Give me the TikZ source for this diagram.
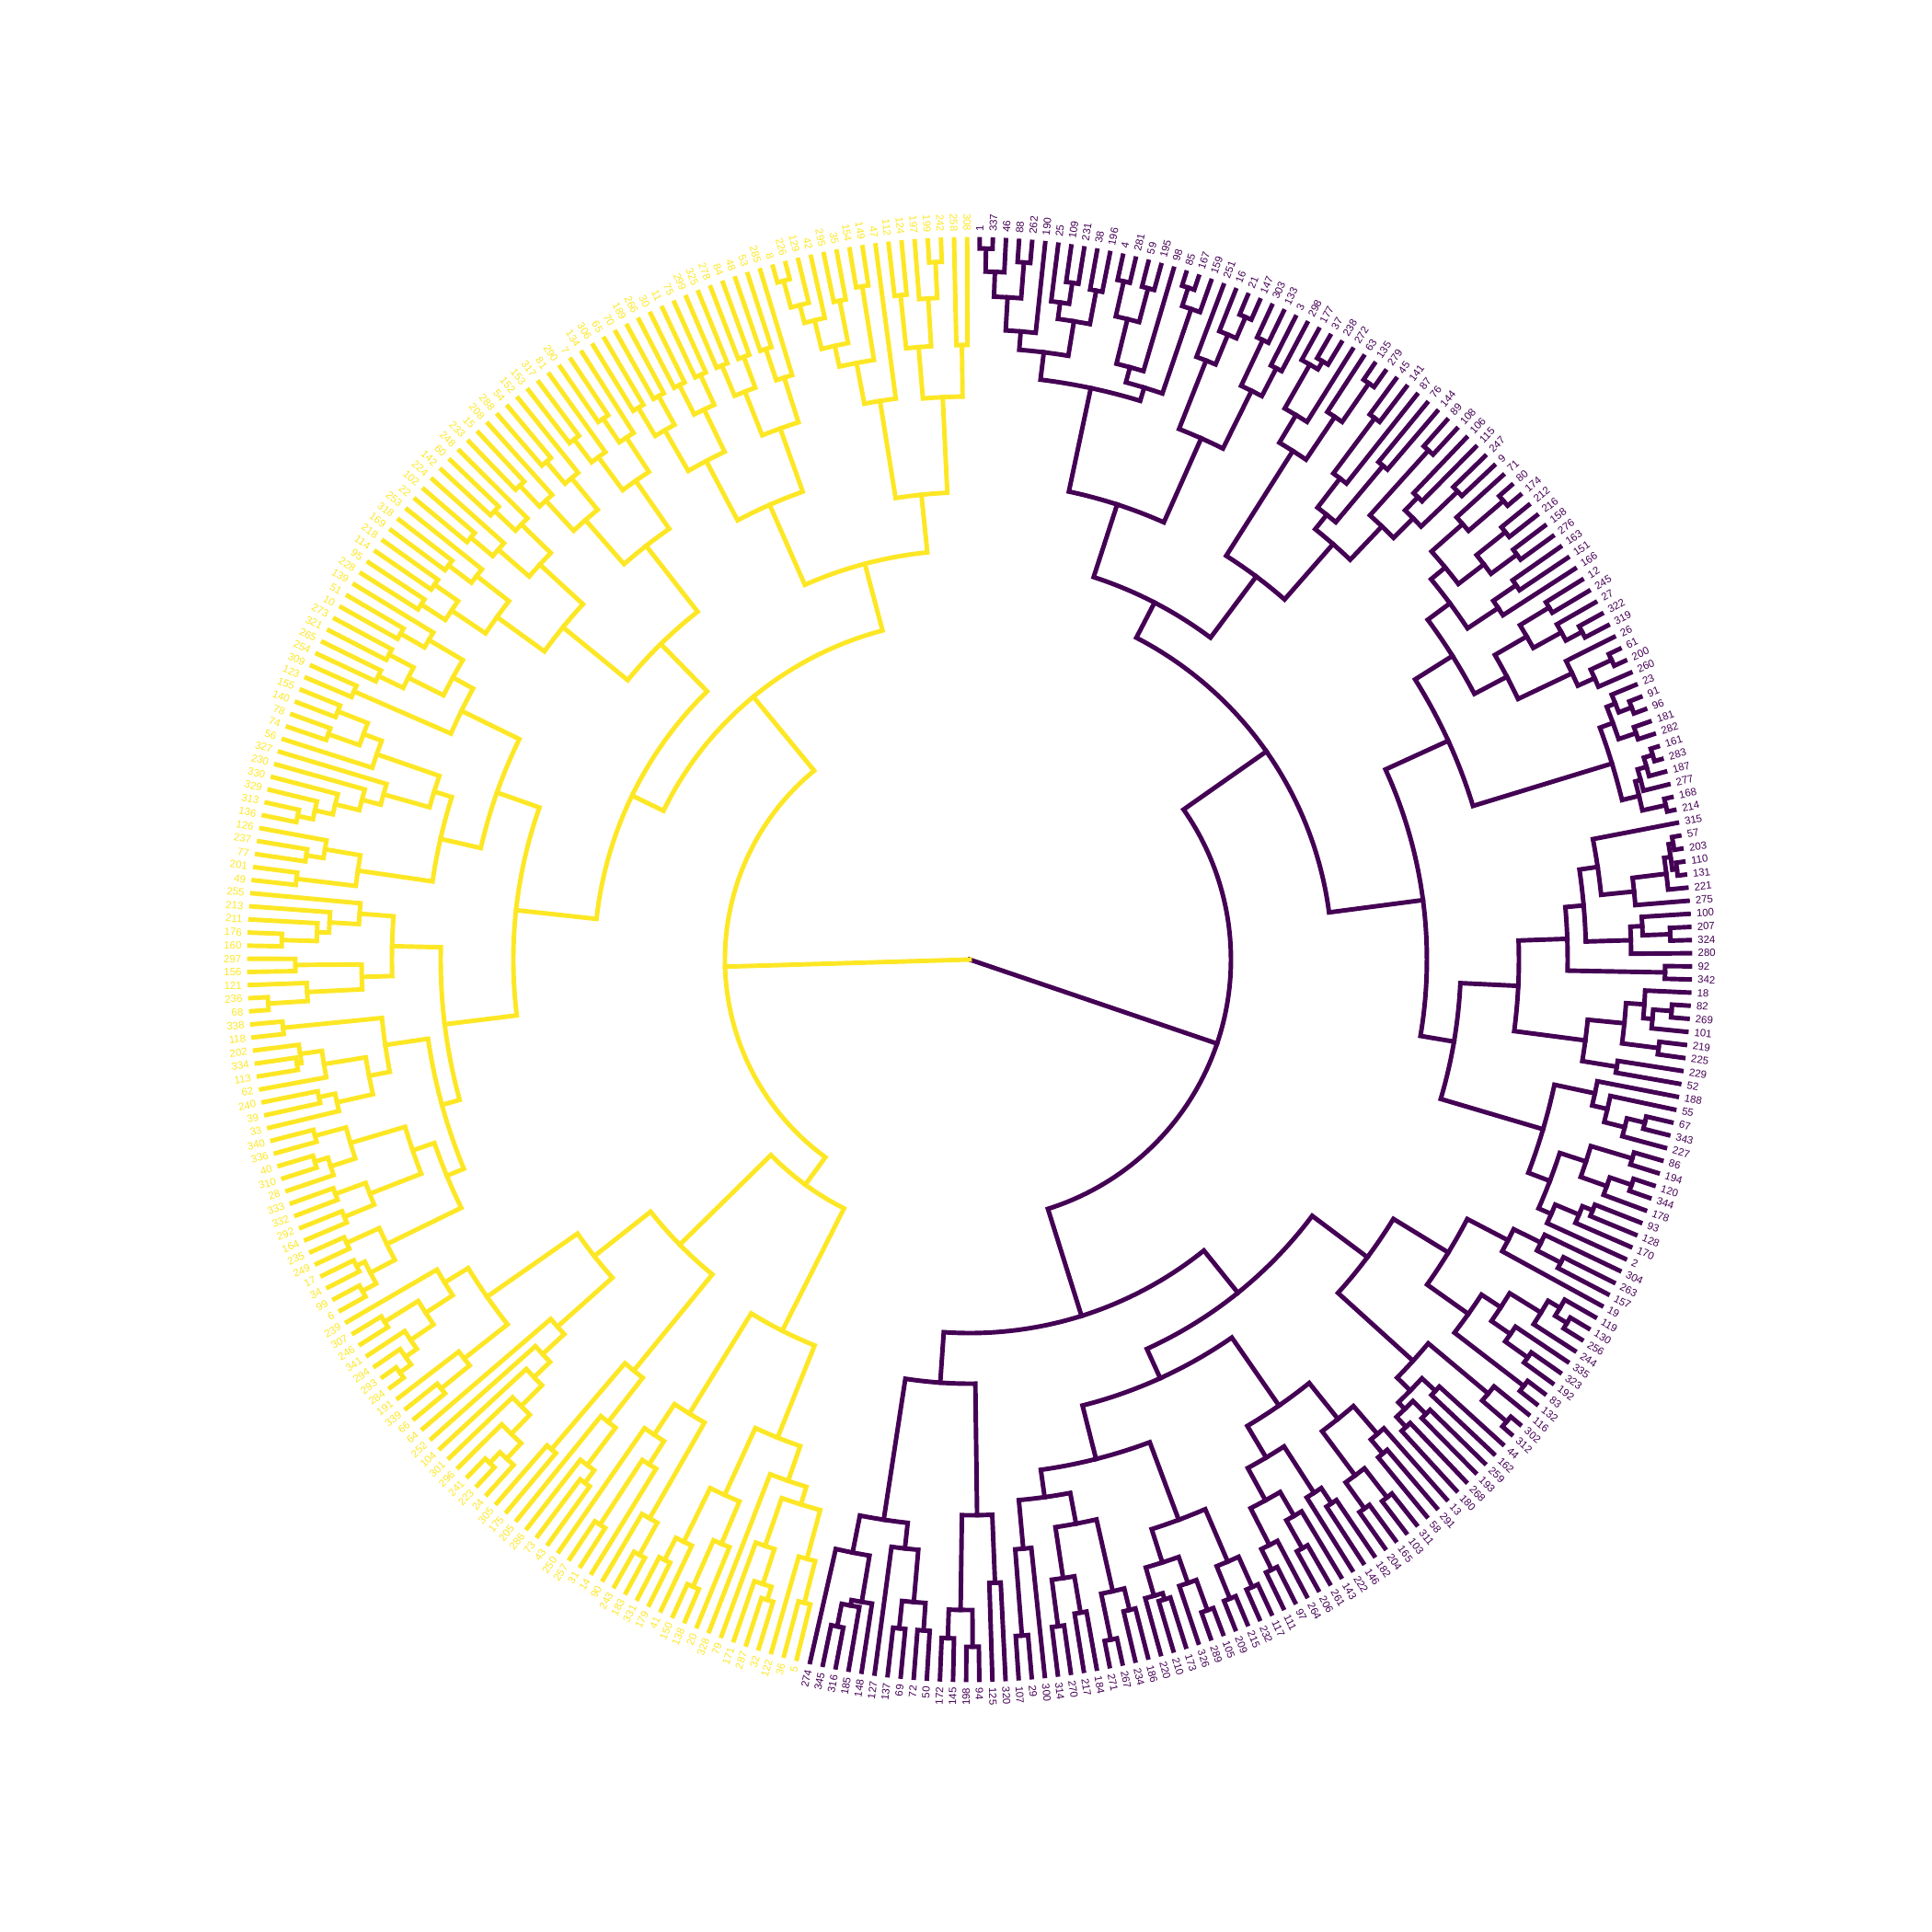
\documentclass[tikz,border=0pt]{standalone}
\usepackage{fontspec}
\setmainfont{Liberation Sans}
\definecolor{vpur}{HTML}{440154}
\definecolor{vyel}{HTML}{FDE725}
\newcount\leafk
\newcount\stk
\def\curstart{89.2}\def\curdir{-1}\def\curpre{p}\def\curcol{vpur}
\tikzset{br/.style={line width=1.4pt,line cap=rect,line join=miter},
  lbl/.style={font=\fontsize{3.25}{3.9}\selectfont,inner sep=0pt}}
\newcommand\Lf{%
  \pgfmathsetmacro\lfA{\curstart+\curdir*\the\leafk*1.0434783}%
  \global\advance\stk by 1
  \expandafter\xdef\csname sa\the\stk\endcsname{\lfA}%
  \expandafter\xdef\csname sr\the\stk\endcsname{783}%
  \pgfmathtruncatemacro\lfFlip{cos(\lfA)<0?1:0}%
  \ifnum\lfFlip=1 \def\lfAnc{east}\pgfmathsetmacro\lfRot{\lfA+180}\else\def\lfAnc{west}\let\lfRot\lfA\fi
  \node[lbl,text=\curcol,rotate=\lfRot,anchor=\lfAnc] (L\curpre\the\leafk) at ({\lfA}:7.91) {\csname\curpre lab\the\leafk\endcsname};%
  \global\advance\leafk by 1
}
\newcommand\Mg[1]{%
  \edef\mgAa{\csname sa\the\stk\endcsname}%
  \edef\mgRa{\csname sr\the\stk\endcsname}%
  \global\advance\stk by -1
  \edef\mgAb{\csname sa\the\stk\endcsname}%
  \edef\mgRb{\csname sr\the\stk\endcsname}%
  \pgfmathsetmacro\mgR{#1}%
  \draw[br,draw=\curcol] ({\mgAb}:{\mgRb/100}) -- ({\mgAb}:{\mgR/100}) arc[start angle=\mgAb,end angle=\mgAa,radius=\mgR/100] -- ({\mgAa}:{\mgRa/100});%
  \pgfmathsetmacro\mgM{(\mgAa+\mgAb)/2}%
  \expandafter\xdef\csname sa\the\stk\endcsname{\mgM}%
  \expandafter\xdef\csname sr\the\stk\endcsname{\mgR}%
}
\newcommand\Au[2]{%
  \ifnum#1<2\relax
    \def\auNext{\Lf}%
  \else
    \pgfmathtruncatemacro\auA{#1/2}%
    \pgfmathtruncatemacro\auB{#1-\auA}%
    \pgfmathsetmacro\auR{#2+(783-#2)*0.3}%
    \edef\auNext{\noexpand\Au{\auA}{\auR}\noexpand\Au{\auB}{\auR}\noexpand\Mg{#2}}%
  \fi
  \auNext}
\begin{document}
\begin{tikzpicture}
\useasboundingbox (-10.54,-10.57) rectangle (10.46,10.43);
\foreach \t [count=\i from 0] in {1,337,46,88,262,190,25,109,231,38,196,4,281,59,195,98,85,167,159,251,16,21,147,303,133,3,298,177,37,238,272,63,135,279,45,141,87,76,144,89,108,106,115,247,9,71,80,174,212,216,158,276,163,151,166,12,245,27,322,319,26,61,200,260,23,91,96,181,282,161,283,187,277,168,214,315,57,203,110,131,221,275,100,207,324,280,92,342,18,82,269,101,219,225,229,52,188,55,67,343,227,86,194,120,344,178,93,128,170,2,304,263,157,19,119,130,256,244,335,323,192,83,132,116,302,312,44,162,259,193,268,180,13,291,58,311,103,165,204,182,146,222,143,261,206,264,97,111,117,232,215,209,105,289,326,173,210,220,186,234,267,271,184,217,270,314,300,29,107,320,125,94,198,145,172,50,72,69,137,127,148,185,316,345,274}{\expandafter\xdef\csname plab\i\endcsname{\t}}
\foreach \t [count=\i from 0] in {308,258,242,199,197,124,112,47,149,154,35,295,42,129,226,8,285,53,48,84,278,325,299,75,11,30,266,189,70,65,306,134,7,290,81,317,153,152,54,288,208,15,233,248,60,142,224,102,22,253,318,169,218,114,95,228,139,51,10,273,321,265,254,309,123,155,140,78,74,56,327,230,330,329,313,136,126,237,77,201,49,255,213,211,176,160,297,156,121,236,68,338,118,202,334,113,62,240,39,33,340,336,40,310,28,333,332,292,164,235,249,17,34,99,6,239,307,246,341,294,293,284,191,339,66,64,252,104,301,296,241,223,24,305,175,205,286,73,43,250,257,31,14,90,243,183,331,179,41,150,138,20,328,79,171,287,32,122,36,5}{\expandafter\xdef\csname ylab\i\endcsname{\t}}
% ================= purple =================
\global\leafk=0 \global\stk=0
\def\curstart{89.2}\def\curdir{-1}\def\curpre{p}\def\curcol{vpur}
% idx 0-18
\Lf\Lf\Mg{773}\Lf\Mg{748}\Lf\Lf\Mg{760}\Mg{721}\Lf\Mg{685}
\Lf\Lf\Lf\Mg{744}\Mg{721}\Lf\Lf\Mg{740}\Mg{703}\Mg{665}
\Lf\Lf\Mg{756}\Lf\Lf\Mg{755}\Mg{717}\Lf\Mg{667}
\Lf\Lf\Mg{768}\Lf\Mg{747}\Mg{650}\Mg{635}
% idx 19-26
\Lf\Lf\Lf\Lf\Mg{760}\Mg{735}\Mg{700}
\Lf\Lf\Mg{745}\Lf\Lf\Mg{724}\Mg{690}\Mg{620}
\Mg{520}
% idx 27-44
\Lf\Lf\Lf\Mg{755}\Mg{745}\Lf\Mg{690}\Lf\Lf\Lf\Mg{762}\Mg{711}\Mg{655}
\Lf\Lf\Mg{735}\Lf\Mg{660}\Lf\Lf\Mg{700}\Mg{620}
\Lf\Lf\Mg{745}\Lf\Lf\Mg{700}\Lf\Lf\Mg{735}\Mg{680}\Mg{650}\Mg{600}
\Mg{520}\Mg{437}
% idx 45-54
\Lf\Lf\Lf\Mg{765}\Mg{715}\Lf\Lf\Mg{745}\Lf\Lf\Mg{740}\Mg{705}\Mg{670}
\Lf\Lf\Mg{720}\Lf\Mg{690}\Mg{650}
% idx 55-63
\Lf\Lf\Mg{737}\Lf\Lf\Lf\Mg{755}\Mg{735}\Mg{700}
\Lf\Lf\Lf\Mg{770}\Lf\Mg{745}\Mg{725}\Mg{660}
\Mg{620}
% idx 64-74
\Lf\Lf\Lf\Mg{770}\Mg{755}\Lf\Lf\Mg{765}\Mg{745}
\Lf\Lf\Mg{775}\Lf\Mg{765}\Lf\Mg{755}\Lf\Lf\Mg{775}\Mg{749}\Mg{730}
\Mg{572}
% idx 75-87
\Lf\Lf\Lf\Mg{775}\Lf\Lf\Mg{775}\Mg{770}\Lf\Mg{763}\Lf\Mg{726}\Mg{690}
\Lf\Lf\Lf\Mg{762}\Mg{732}\Lf\Mg{719}\Mg{670}
\Lf\Lf\Mg{756}\Mg{650}
% idx 88-95
\Lf\Lf\Lf\Mg{765}\Lf\Mg{745}\Mg{735}\Lf\Lf\Mg{755}\Mg{715}\Lf\Lf\Mg{713}\Mg{675}
\Mg{597}
% idx 96-109
\Lf\Lf\Lf\Lf\Mg{755}\Lf\Mg{735}\Mg{712}\Mg{695}
\Lf\Lf\Mg{752}\Lf\Lf\Mg{760}\Lf\Mg{735}\Mg{705}
\Lf\Lf\Mg{730}\Lf\Mg{718}\Lf\Mg{690}\Mg{675}\Mg{650}
\Mg{534}\Mg{497}\Mg{394}
% idx 110-131
\Lf\Lf\Lf\Mg{722}\Mg{693}\Lf\Mg{660}
\Lf\Lf\Lf\Mg{760}\Mg{745}\Lf\Mg{730}\Lf\Lf\Lf\Mg{745}\Mg{715}\Mg{690}\Lf\Lf\Mg{760}\Mg{665}
\Mg{610}
\Lf\Lf\Lf\Mg{770}\Mg{735}\Lf\Lf\Mg{690}\Lf\Lf\Mg{700}\Lf\Lf\Mg{695}\Mg{680}\Mg{670}\Mg{650}
\Mg{540}
% idx 132-168
\Lf\Lf\Lf\Mg{700}\Mg{680}\Lf\Lf\Mg{740}\Lf\Lf\Mg{735}\Mg{700}\Mg{640}
\Lf\Lf\Mg{710}\Lf\Mg{690}\Lf\Lf\Lf\Mg{735}\Mg{700}\Lf\Lf\Lf\Mg{740}\Mg{715}\Mg{670}\Mg{630}
\Mg{590}
\Lf\Lf\Mg{748}\Lf\Lf\Mg{750}\Mg{712}
\Lf\Lf\Mg{753}\Lf\Mg{718}\Lf\Lf\Mg{727}\Lf\Mg{720}\Mg{688}\Mg{650}
\Lf\Lf\Mg{728}\Lf\Lf\Mg{755}\Mg{704}
\Lf\Lf\Mg{720}\Lf\Lf\Mg{731}\Mg{680}\Mg{624}
\Lf\Lf\Lf\Mg{737}\Mg{643}\Mg{590}
\Mg{560}\Mg{500}\Mg{465}
% idx 169-174
\Lf\Lf\Mg{678}\Lf\Lf\Mg{747}\Lf\Lf\Mg{738}\Mg{707}\Mg{604}
% idx 175-184
\Lf\Lf\Mg{731}\Lf\Lf\Mg{731}\Mg{701}\Lf\Mg{644}
\Lf\Lf\Lf\Lf\Mg{739}\Mg{714}\Mg{708}\Lf\Mg{657}\Mg{616}
\Mg{461}\Mg{406}\Mg{284}
% ================= yellow =================
\global\leafk=0
\def\curstart{90.2}\def\curdir{1}\def\curpre{y}\def\curcol{vyel}
% j0-30
\Lf\Lf\Mg{668}\Lf\Lf\Mg{759}\Lf\Mg{720}\Lf\Lf\Mg{726}\Mg{668}\Mg{612}
\Lf\Lf\Lf\Mg{741}\Lf\Lf\Mg{730}\Lf\Lf\Lf\Lf\Mg{765}\Mg{735}\Mg{715}\Mg{683}\Mg{660}\Mg{615}
\Mg{508}
\Au{15}{540}\Mg{445}
% j31-55
\Au{25}{480}
% j56-80
\Au{7}{640}\Lf\Lf\Mg{730}\Mg{615}
\Lf\Lf\Mg{738}\Lf\Lf\Mg{739}\Mg{703}\Lf\Mg{682}
\Lf\Lf\Lf\Lf\Lf\Lf\Mg{747}\Mg{730}\Mg{710}\Mg{683}\Mg{662}\Mg{610}
\Lf\Lf\Lf\Mg{730}\Mg{711}\Lf\Lf\Mg{737}\Mg{672}\Mg{590}
\Mg{545}
% j81-114
\Lf\Lf\Lf\Lf\Lf\Mg{748}\Mg{710}\Mg{697}\Mg{665}
\Lf\Lf\Mg{733}\Lf\Lf\Lf\Mg{764}\Mg{721}\Mg{661}\Mg{628}
\Lf\Lf\Mg{750}\Lf\Lf\Lf\Mg{740}\Mg{735}\Lf\Mg{711}\Lf\Lf\Mg{723}\Lf\Mg{705}\Mg{665}\Mg{642}
\Lf\Lf\Mg{737}\Lf\Lf\Mg{745}\Lf\Mg{730}\Mg{702}\Lf\Lf\Mg{735}\Lf\Lf\Mg{735}\Mg{700}\Mg{640}
\Lf\Lf\Mg{744}\Lf\Lf\Mg{745}\Lf\Lf\Mg{752}\Mg{735}\Mg{705}
\Mg{615}\Mg{595}\Mg{575}
\Mg{496}\Mg{408}\Mg{370}
% j115-138
\Lf\Lf\Lf\Mg{748}\Lf\Lf\Lf\Lf\Mg{765}\Mg{750}\Mg{735}\Mg{705}\Mg{670}\Lf\Lf\Lf\Mg{740}\Mg{700}\Mg{640}
\Lf\Lf\Lf\Lf\Lf\Lf\Lf\Mg{756}\Lf\Mg{740}\Mg{717}\Mg{688}\Mg{656}\Mg{632}\Mg{600}
\Mg{520}
\Lf\Lf\Mg{700}\Lf\Lf\Lf\Lf\Mg{706}\Mg{689}\Mg{638}\Mg{577}
\Mg{442}
% j139-159
\Lf\Lf\Lf\Mg{734}\Lf\Mg{650}\Mg{620}\Lf\Lf\Lf\Mg{740}\Mg{700}\Mg{580}
\Lf\Lf\Mg{732}\Lf\Mg{705}\Lf\Lf\Mg{745}\Lf\Mg{690}\Mg{640}
\Lf\Lf\Lf\Lf\Lf\Mg{730}\Mg{715}\Mg{675}\Lf\Lf\Lf\Mg{722}\Mg{675}\Mg{620}\Mg{600}\Mg{560}
\Mg{452}\Mg{303}\Mg{266}
% ================= root =================
\edef\rtAp{\csname sa1\endcsname}\edef\rtRp{\csname sr1\endcsname}
\edef\rtAy{\csname sa2\endcsname}\edef\rtRy{\csname sr2\endcsname}
\coordinate (root) at (0,0);
\draw[br,draw=vpur] (root) -- ({\rtAp}:{\rtRp/100});
\draw[br,draw=vyel] (root) -- ({\rtAy}:{\rtRy/100});
\end{tikzpicture}
\end{document}
